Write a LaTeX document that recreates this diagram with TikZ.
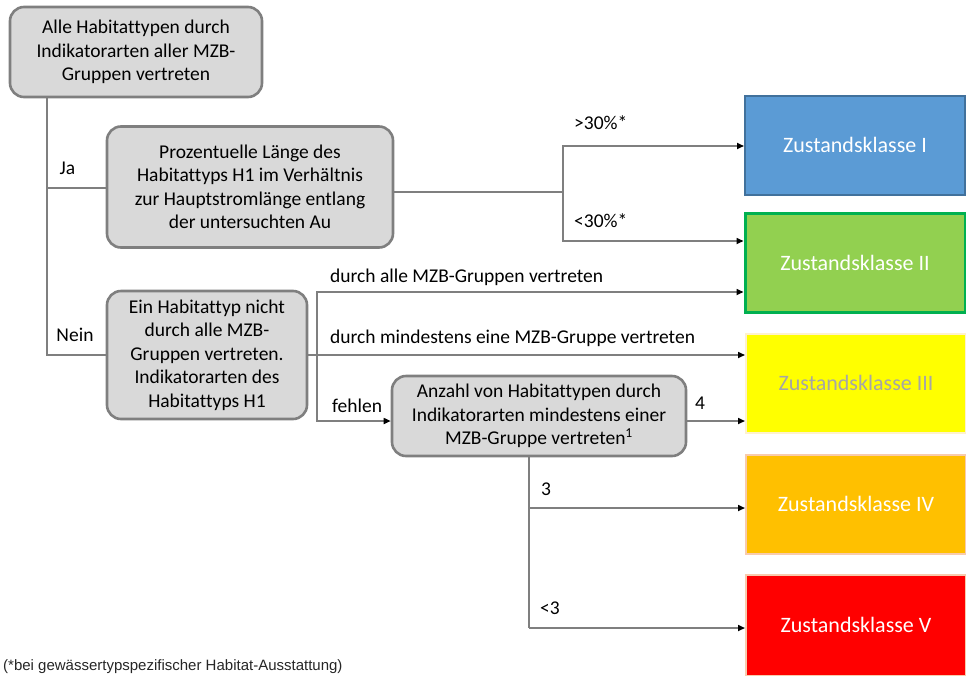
\documentclass[tikz,border=0pt]{standalone}
\usepackage{fontspec}
\setmainfont{Carlito}[Ligatures=CommonOff]
\newfontfamily\footfont{Liberation Sans}
\usetikzlibrary{arrows.meta}
\definecolor{boxfill}{HTML}{D9D9D9}
\definecolor{boxgray}{HTML}{7F7F7F}
\definecolor{linegray}{HTML}{7F7F7F}
\definecolor{kblue}{HTML}{5B9BD5}
\definecolor{kbluedraw}{HTML}{41719C}
\definecolor{kgreen}{HTML}{92D050}
\definecolor{kgreendraw}{HTML}{00B050}
\definecolor{kyellow}{HTML}{FFFF00}
\definecolor{kyellowdraw}{HTML}{FFF2CC}
\definecolor{korange}{HTML}{FFC000}
\definecolor{kpeach}{HTML}{F8CBAD}
\definecolor{kred}{HTML}{FF0000}
\definecolor{kgraytext}{HTML}{A6A6A6}
\tikzset{
  gbox/.style={draw=boxgray, fill=boxfill, line width=2.6pt, rounded corners=14pt,
    align=center, inner sep=0pt, font=\fontsize{19.5}{23.5}\selectfont},
  kbox/.style={inner sep=0pt, minimum width=220pt, minimum height=99pt,
    text=white, font=\fontsize{22}{26}\selectfont},
  conn/.style={draw=linegray, line width=1.6pt},
  arr/.style={conn, -{Triangle[length=7pt,width=6pt,color=black]}},
  lbl/.style={inner sep=0pt, font=\fontsize{19.5}{23.5}\selectfont}
}
\begin{document}
\begin{tikzpicture}[x=1pt,y=-1pt]
\useasboundingbox (0,0) rectangle (966,675);
\clip (0,0) rectangle (966,675);

% decision boxes
\node[gbox, minimum width=252pt, minimum height=90pt] (A) at (136,52)
  {Alle Habitattypen durch\\Indikatorarten aller MZB-\\Gruppen vertreten};
\node[gbox, minimum width=286pt, minimum height=121pt] (B) at (250,187)
  {Prozentuelle Länge des\\Habitattyps H1 im Verhältnis\\zur Hauptstromlänge entlang\\der untersuchten Au};
\node[gbox, minimum width=200pt, minimum height=128pt] (C) at (207,355)
  {Ein Habitattyp nicht\\durch alle MZB-\\Gruppen vertreten.\\Indikatorarten des\\Habitattyps H1};
\node[gbox, minimum width=294pt, minimum height=80pt] (D) at (539,416)
  {Anzahl von Habitattypen durch\\Indikatorarten mindestens einer\\MZB-Gruppe vertreten\textsuperscript{1}};

% class boxes
\node[kbox, fill=kblue, draw=kbluedraw, line width=2pt] (K1) at (855,145) {Zustandsklasse I};
\node[kbox, fill=kgreen, draw=kgreendraw, line width=3pt] (K2) at (855,263) {Zustandsklasse II};
\node[kbox, fill=kyellow, draw=kyellowdraw, line width=2pt, text=kgraytext] (K3) at (856,383) {Zustandsklasse III};
\node[kbox, fill=korange, draw=kpeach, line width=2pt] (K4) at (856,504) {Zustandsklasse IV};
\node[kbox, fill=kred, draw=kpeach, line width=2pt, minimum height=101pt] (K5) at (856,625) {Zustandsklasse V};

% junction points
\coordinate (j1) at (47,355);
\coordinate (j2) at (47,188);
\coordinate (s1) at (563,192);
\coordinate (s2) at (317,355);
\coordinate (s3) at (529,628);
\coordinate (s4) at (529,508);

% connectors
\draw[conn] (A.south -| j1) -- (j1) -- (C.west);
\draw[conn] (j2) -- (B.west |- j2);
\draw[conn] (B.east |- s1) -- (s1);
\draw[arr] (s1) |- ([yshift=-1pt]K1.west);
\draw[arr] (s1) |- ([yshift=22pt]K2.west);
\draw[conn] (C.east) -- (s2);
\draw[arr] (s2) |- ([yshift=-29pt]K2.west);
\draw[arr] (s2) -- (s2 -| K3.west);
\draw[arr] (s2) |- ([yshift=-5pt]D.west);
\draw[arr] ([yshift=-5pt]D.east) -- ([yshift=-5pt]D.east -| K3.west);
\draw[conn] (D.south -| s3) -- (s3);
\draw[arr] (s4) -- (s4 -| K4.west);
\draw[arr] (s3) -- (s3 -| K5.west);

% labels
\node[lbl] (lja) at (67.5,168) {Ja};
\node[lbl] (lnein) at (75,335) {Nein};
\node[lbl, anchor=west] (lgt) at (574,123) {>30\%*};
\node[lbl, anchor=west] (llt) at (574,221) {<30\%*};
\node[lbl, anchor=west] (lalle) at (330,277) {durch alle MZB-Gruppen vertreten};
\node[lbl, anchor=west] (lmind) at (330,338) {durch mindestens eine MZB-Gruppe vertreten};
\node[lbl, anchor=west] (lfehl) at (332,406) {fehlen};
\node[lbl] (lvier) at (700,403) {4};
\node[lbl, anchor=west] (ldrei) at (541,489) {3};
\node[lbl, anchor=west] (lkl) at (540,608) {<3};

% footnote
\node[anchor=base west, inner sep=0pt, font=\footfont\fontsize{15}{17}\selectfont, text=black!85] (fn) at (3,670.5)
  {(*bei gewässertypspezifischer Habitat-Ausstattung)};
\end{tikzpicture}
\end{document}
